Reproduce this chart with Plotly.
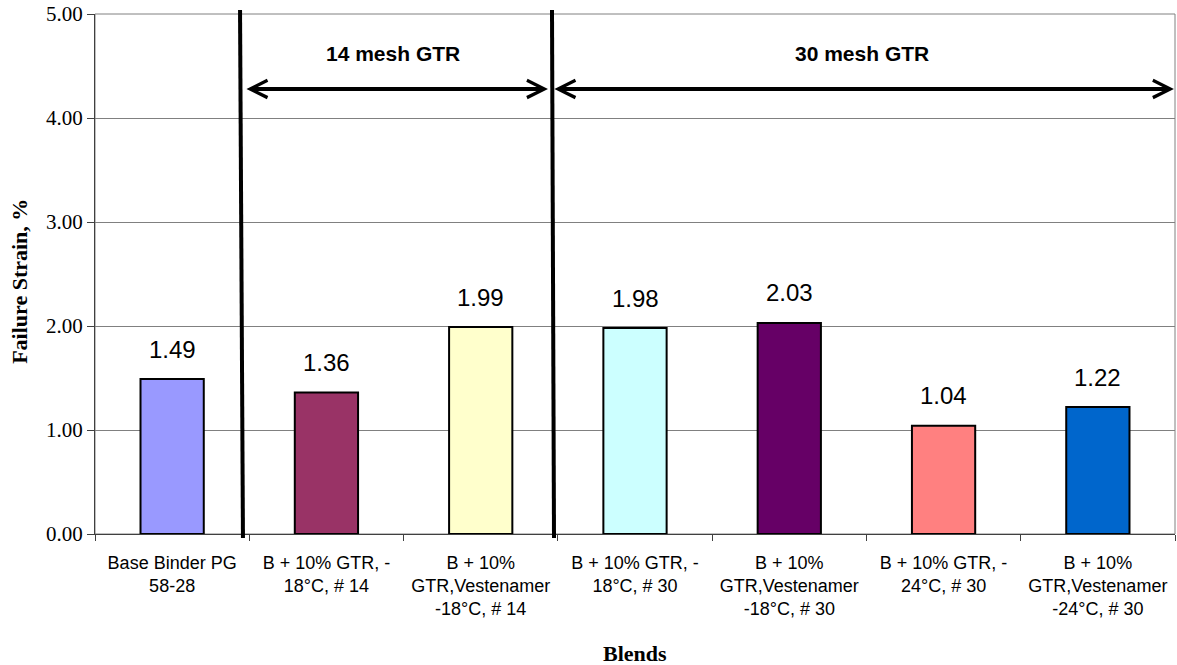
import plotly.graph_objects as go

categories = [
    "Base Binder PG<br>58-28",
    "B + 10% GTR, -<br>18°C, # 14",
    "B + 10%<br>GTR,Vestenamer<br>-18°C, # 14",
    "B + 10% GTR, -<br>18°C, # 30",
    "B + 10%<br>GTR,Vestenamer<br>-18°C, # 30",
    "B + 10% GTR, -<br>24°C, # 30",
    "B + 10%<br>GTR,Vestenamer<br>-24°C, # 30",
]
values = [1.49, 1.36, 1.99, 1.98, 2.03, 1.04, 1.22]
colors = ["#9999FF", "#993366", "#FFFFCC", "#CCFFFF", "#660066", "#FF8080", "#0066CC"]
y_tick_values = [0, 1, 2, 3, 4, 5]
y_tick_labels = ["0.00", "1.00", "2.00", "3.00", "4.00", "5.00"]
group_labels = ["14 mesh GTR", "30 mesh GTR"]
y_title = "Failure Strain, %"
x_title = "Blends"

SANS = "Liberation Sans, Arial, sans-serif"
SERIF = "Liberation Serif, Times New Roman, serif"

fig = go.Figure()
fig.add_trace(go.Bar(
    x=categories, y=values,
    marker=dict(color=colors, line=dict(color="black", width=2)),
    showlegend=False, hoverinfo="x+y",
))

annotations = []
for c, v in zip(categories, values):
    annotations.append(dict(
        x=c, y=v, xref="x", yref="y", text=f"{v:.2f}", showarrow=False,
        yshift=30, yanchor="middle", font=dict(family=SANS, size=24, color="black"),
    ))

# group arrows
arrow_y = 4.279
annotations.append(dict(
    x=2.436, y=arrow_y, ax=0.472, ay=arrow_y, xref="x", yref="y", axref="x", ayref="y",
    text="", showarrow=True, arrowhead=5, startarrowhead=5, arrowside="end+start",
    arrowwidth=4, arrowsize=0.85, startarrowsize=0.85, arrowcolor="black",
))
annotations.append(dict(
    x=6.493, y=arrow_y, ax=2.468, ay=arrow_y, xref="x", yref="y", axref="x", ayref="y",
    text="", showarrow=True, arrowhead=5, startarrowhead=5, arrowside="end+start",
    arrowwidth=4, arrowsize=0.85, startarrowsize=0.85, arrowcolor="black",
))
annotations.append(dict(
    x=1.431, y=4.625, xref="x", yref="y", text=f"<b>{group_labels[0]}</b>", showarrow=False,
    font=dict(family=SANS, size=21, color="black"),
))
annotations.append(dict(
    x=4.47, y=4.625, xref="x", yref="y", text=f"<b>{group_labels[1]}</b>", showarrow=False,
    font=dict(family=SANS, size=21, color="black"),
))
# axis titles
annotations.append(dict(
    x=-0.0694, y=0.485, xref="paper", yref="paper", text=f"<b>{y_title}</b>", textangle=-90,
    showarrow=False, xanchor="center", yanchor="middle",
    font=dict(family=SERIF, size=22, color="black"),
))
annotations.append(dict(
    x=0.5, y=-0.229, xref="paper", yref="paper", text=f"<b>{x_title}</b>",
    showarrow=False, xanchor="center", yanchor="middle",
    font=dict(family=SERIF, size=22, color="black"),
))

shapes = [
    dict(type="rect", xref="paper", yref="paper", x0=0, x1=1, y0=0, y1=1,
         line=dict(color="#808080", width=1), layer="below"),
    dict(type="line", xref="x", yref="paper", x0=0.44, y0=1.0077, x1=0.459, y1=-0.0077,
         line=dict(color="black", width=4)),
    dict(type="line", xref="x", yref="paper", x0=2.462, y0=1.0077, x1=2.475, y1=-0.0077,
         line=dict(color="black", width=4)),
]

fig.update_layout(
    width=1177, height=665,
    margin=dict(l=95, r=2, t=14, b=131),
    paper_bgcolor="white", plot_bgcolor="white",
    bargap=0.59,
    annotations=annotations, shapes=shapes,
    xaxis=dict(
        type="category", categoryorder="array", categoryarray=categories,
        tickson="boundaries", ticks="outside", ticklen=6, tickcolor="#404040",
        showline=True, linecolor="#404040", linewidth=1, showgrid=False,
        tickfont=dict(family=SANS, size=18, color="black"),
        ticklabelstandoff=12,
        range=[-0.5, 6.5],
    ),
    yaxis=dict(
        range=[0, 5], tickvals=y_tick_values, ticktext=y_tick_labels,
        ticks="outside", ticklen=7, tickcolor="#404040",
        showline=True, linecolor="#404040", linewidth=1,
        showgrid=True, gridcolor="#808080", gridwidth=1, zeroline=False,
        tickfont=dict(family=SERIF, size=21, color="black"),
    ),
)

fig.write_html(
    "out.html",
    config={"displayModeBar": False},
    post_script="document.body.style.margin='0';document.body.style.overflow='hidden';",
)
